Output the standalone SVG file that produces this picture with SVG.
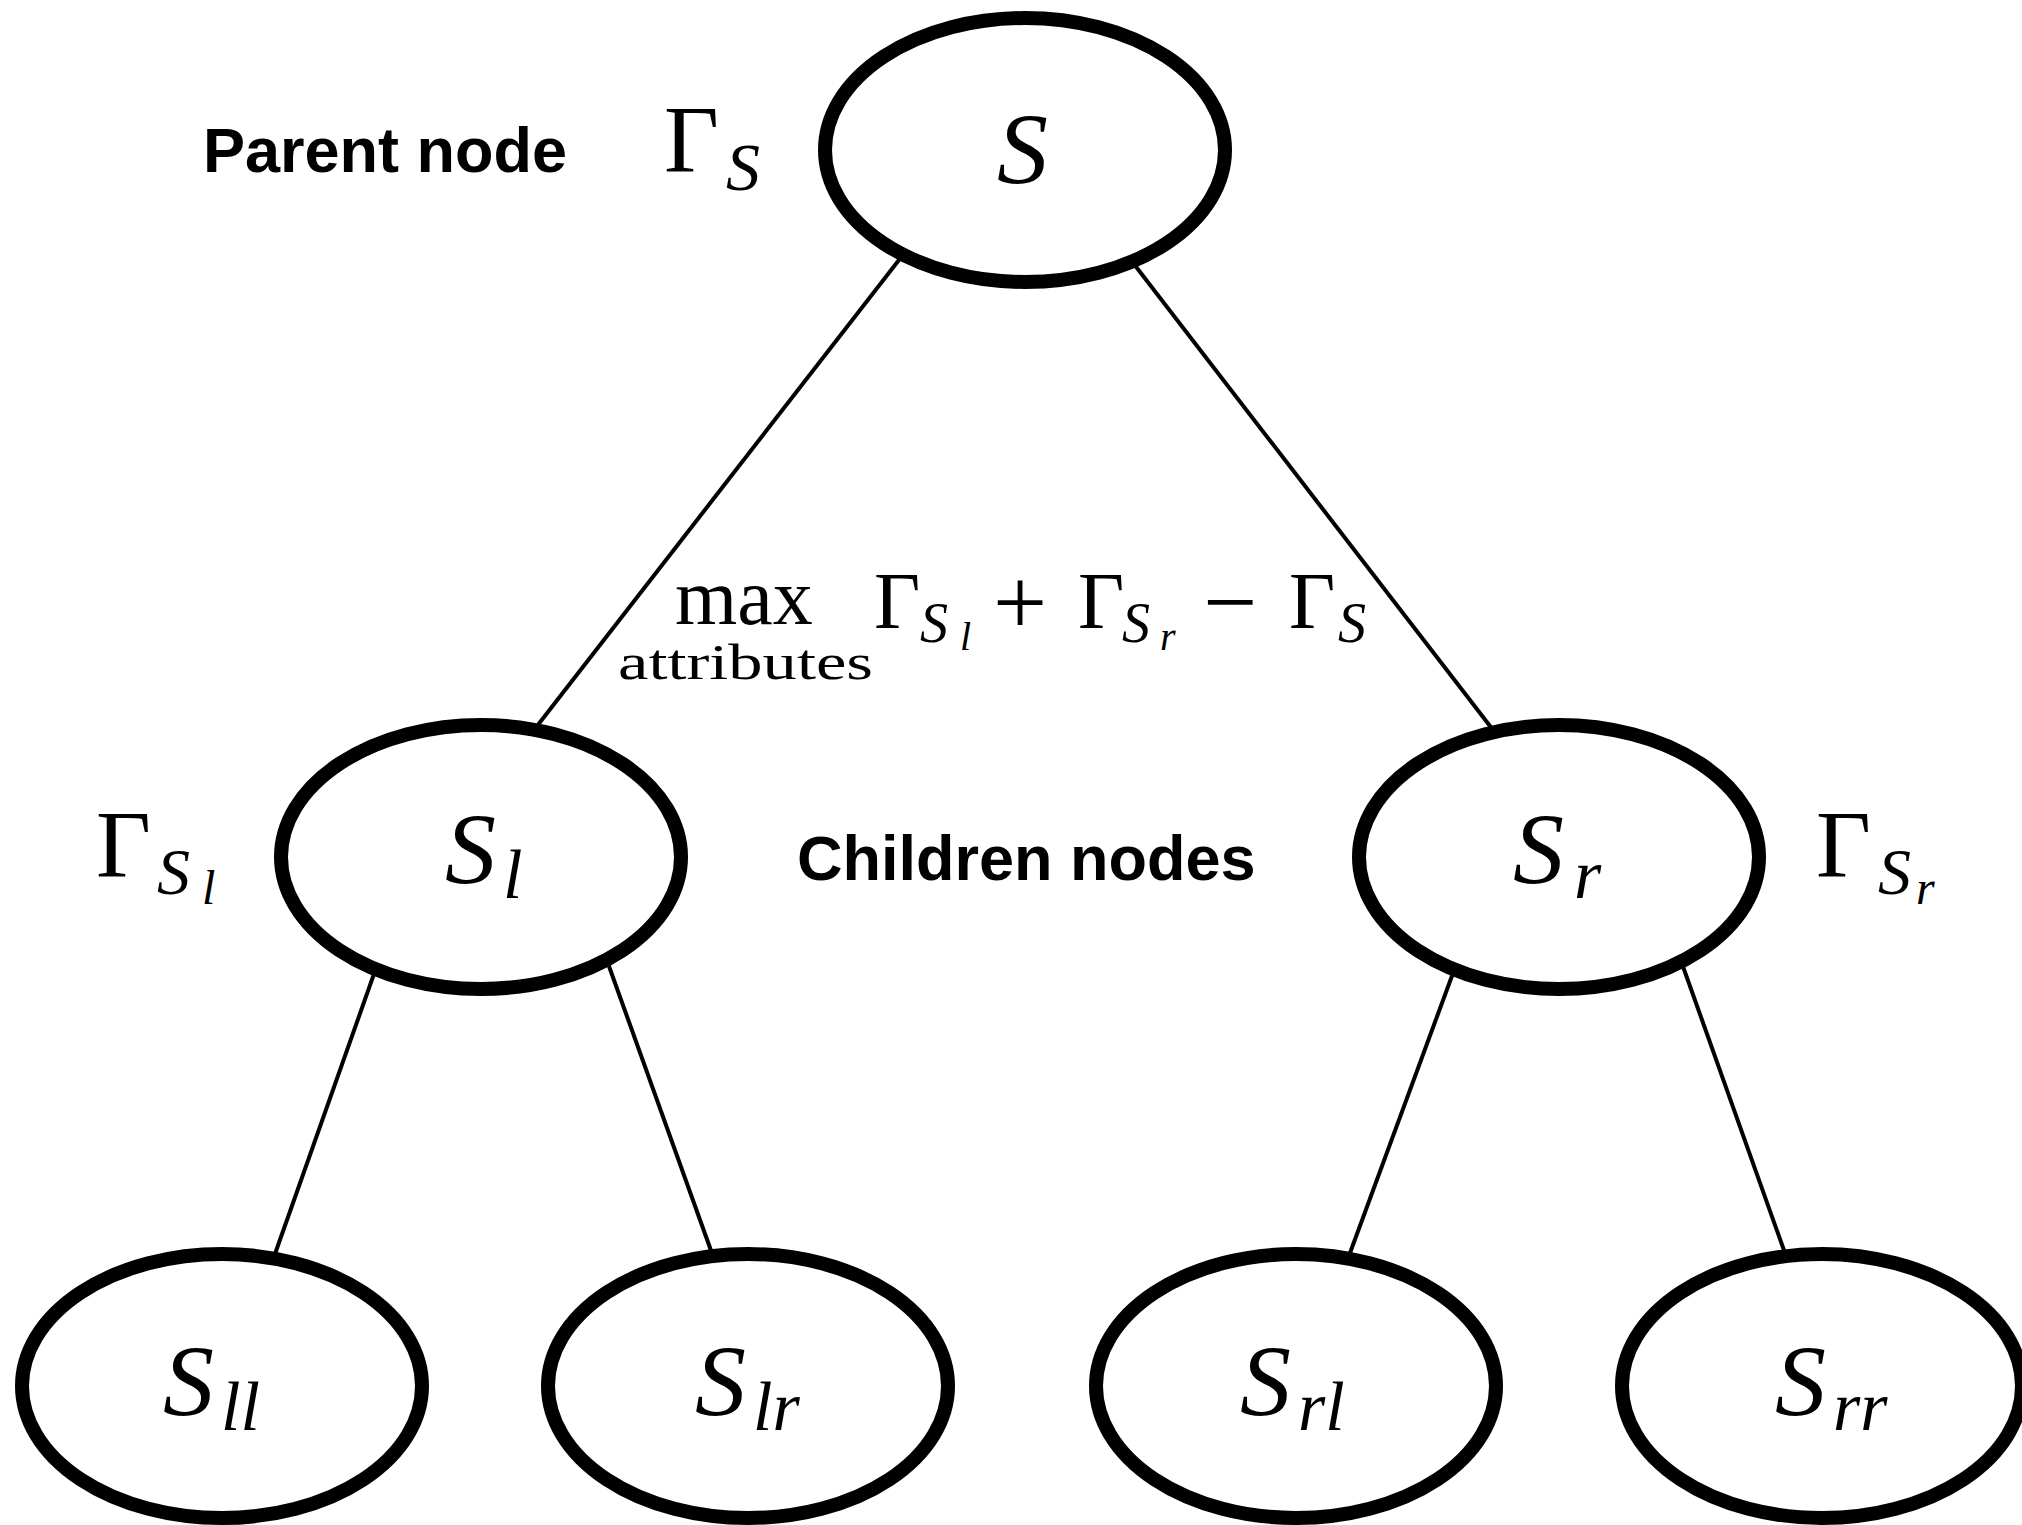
<svg xmlns="http://www.w3.org/2000/svg" width="2022" height="1525" viewBox="0 0 2022 1525">
  <style>
    .node { fill: #ffffff; stroke: #000000; stroke-width: 14; }
    .edge { stroke: #000000; stroke-width: 4; fill: none; }
    .m { font-family: "Liberation Serif", "Times New Roman", serif; fill: #000000; }
    .it { font-style: italic; }
    .lbl { font-family: "Liberation Sans", Arial, sans-serif; font-weight: bold; font-size: 63px; fill: #000000; }
  </style>
  <rect width="2022" height="1525" fill="#ffffff"/>

  <!-- tree edges (drawn first, node ellipses cover the ends) -->
  <g id="connectors">
    <line class="edge" x1="930" y1="220" x2="520" y2="748"/>
    <line class="edge" x1="1100" y1="220" x2="1510" y2="752"/>
    <line class="edge" x1="386" y1="940" x2="270" y2="1268"/>
    <line class="edge" x1="596" y1="930" x2="718" y2="1270"/>
    <line class="edge" x1="1463" y1="946" x2="1343" y2="1272"/>
    <line class="edge" x1="1670" y1="930" x2="1791" y2="1270"/>
  </g>

  <!-- parent node -->
  <g id="node-S">
    <ellipse class="node" cx="1025" cy="150" rx="200" ry="132"/>
    <text class="m it" x="997" y="184" font-size="102">S</text>
  </g>

  <!-- children -->
  <g id="node-Sl">
    <ellipse class="node" cx="481" cy="857" rx="200" ry="132"/>
    <text class="m it" font-size="102"><tspan x="445" y="884">S</tspan><tspan x="503" y="898" font-size="70">l</tspan></text>
  </g>
  <g id="node-Sr">
    <ellipse class="node" cx="1559" cy="857" rx="200" ry="132"/>
    <text class="m it" font-size="102"><tspan x="1513" y="884">S</tspan><tspan x="1574" y="898" font-size="70">r</tspan></text>
  </g>

  <!-- grandchildren -->
  <g id="node-Sll">
    <ellipse class="node" cx="222" cy="1386" rx="200" ry="132"/>
    <text class="m it" font-size="102"><tspan x="163" y="1416">S</tspan><tspan x="221" y="1430" font-size="70">ll</tspan></text>
  </g>
  <g id="node-Slr">
    <ellipse class="node" cx="748" cy="1386" rx="200" ry="132"/>
    <text class="m it" font-size="102"><tspan x="695" y="1416">S</tspan><tspan x="753" y="1430" font-size="70">lr</tspan></text>
  </g>
  <g id="node-Srl">
    <ellipse class="node" cx="1296" cy="1386" rx="200" ry="132"/>
    <text class="m it" font-size="102"><tspan x="1240" y="1416">S</tspan><tspan x="1298" y="1430" font-size="70">rl</tspan></text>
  </g>
  <g id="node-Srr">
    <ellipse class="node" cx="1822" cy="1386" rx="200" ry="132"/>
    <text class="m it" font-size="102"><tspan x="1775" y="1416">S</tspan><tspan x="1833" y="1430" font-size="70">rr</tspan></text>
  </g>

  <!-- side labels -->
  <g id="labels">
    <text class="lbl" x="203" y="172">Parent node</text>
    <text class="lbl" x="797" y="880">Children nodes</text>

    <text class="m" font-size="95"><tspan x="664" y="172">Γ</tspan><tspan class="it" x="726" y="190" font-size="68">S</tspan></text>
    <text class="m" font-size="95"><tspan x="96" y="877">Γ</tspan><tspan class="it" x="157" y="894" font-size="66">S</tspan><tspan class="it" x="202" y="904" font-size="48">l</tspan></text>
    <text class="m" font-size="95"><tspan x="1816" y="877">Γ</tspan><tspan class="it" x="1878" y="894" font-size="66">S</tspan><tspan class="it" x="1916" y="904" font-size="48">r</tspan></text>
  </g>

  <!-- objective between the two children -->
  <g id="objective">
    <text class="m" x="675" y="624" font-size="80">max</text>
    <text class="m" x="618" y="679" font-size="50" textLength="255" lengthAdjust="spacingAndGlyphs">attributes</text>
    <text class="m" font-size="80">
      <tspan x="874" y="628">Γ</tspan><tspan class="it" x="920" y="642" font-size="56">S</tspan><tspan class="it" x="960" y="650" font-size="40">l</tspan>
      <tspan x="1030" y="634" font-size="96" text-anchor="middle">+</tspan>
      <tspan x="1078" y="628">Γ</tspan><tspan class="it" x="1122" y="642" font-size="56">S</tspan><tspan class="it" x="1160" y="650" font-size="40">r</tspan>
      <tspan x="1240" y="634" font-size="96" text-anchor="middle">−</tspan>
      <tspan x="1289" y="628">Γ</tspan><tspan class="it" x="1338" y="642" font-size="56">S</tspan>
    </text>
  </g>
</svg>
